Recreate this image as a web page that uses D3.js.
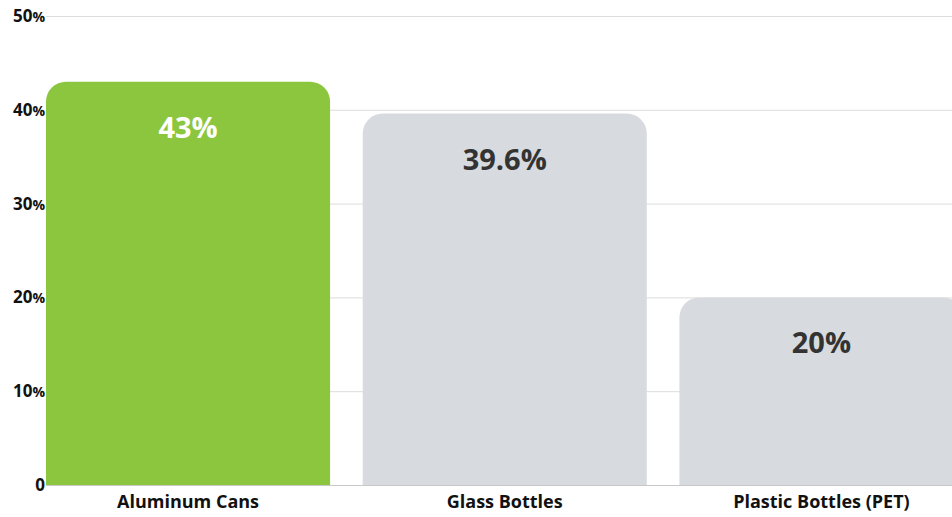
<!DOCTYPE html>
<html>
<head>
<meta charset="utf-8">
<script src="https://cdn.jsdelivr.net/npm/d3@7"></script>
<style>
  body { margin: 0; background: #fff; overflow: hidden; }
  text { font-family: "Open Sans", sans-serif; }
</style>
</head>
<body>
<svg width="952" height="517"></svg>
<script>
var categories = ['Aluminum Cans', 'Glass Bottles', 'Plastic Bottles (PET)']
var values = [43, 39.6, 20]
var labels = ['43%', '39.6%', '20%']
var yTicks = [0, 10, 20, 30, 40, 50]

var svg = d3.select("svg"),
    width = +svg.attr("width"),
    height = +svg.attr("height")

var plotLeft = 46, plotTop = 16, plotBottom = 485
var step = 316.7, pad = 0.103

var x = d3.scaleBand()
    .domain(categories)
    .range([plotLeft, plotLeft + step * (categories.length - pad)])
    .paddingInner(pad)
    .paddingOuter(0)

var y = d3.scaleLinear().domain([0, 50]).range([plotBottom, plotTop])

// gridlines
svg.append("g").selectAll("line")
  .data(yTicks.slice(1))
  .enter().append("line")
    .attr("x1", plotLeft).attr("x2", width)
    .attr("y1", function (d) { return y(d) + 0.5 })
    .attr("y2", function (d) { return y(d) + 0.5 })
    .style("stroke", "#dcdcdc")
    .style("stroke-width", 1)

// y labels
var yl = svg.append("g").selectAll("text")
  .data(yTicks)
  .enter().append("text")
    .attr("x", 45)
    .attr("y", function (d) { return y(d) + 6 })
    .attr("text-anchor", "end")
    .style("font-weight", 700)
    .style("font-size", "17px")
    .style("fill", "#111")
yl.append("tspan").text(function (d) { return d })
yl.append("tspan").style("font-size", "14px").text(function (d) { return d ? '%' : '' })

function topRounded (x0, y0, w, h, r) {
  return 'M' + x0 + ',' + (y0 + h) +
    'V' + (y0 + r) +
    'A' + r + ',' + r + ' 0 0 1 ' + (x0 + r) + ',' + y0 +
    'H' + (x0 + w - r) +
    'A' + r + ',' + r + ' 0 0 1 ' + (x0 + w) + ',' + (y0 + r) +
    'V' + (y0 + h) + 'Z'
}

var bars = svg.append("g").selectAll("g")
  .data(categories)
  .enter().append("g")

bars.append("path")
    .attr("d", function (d, i) {
      return topRounded(x(d), y(values[i]), x.bandwidth(), plotBottom - y(values[i]), 20)
    })
    .style("fill", function (d, i) { return i === 0 ? '#8cc63f' : '#d7dbdf' })

bars.append("text")
    .attr("x", function (d) { return x(d) + x.bandwidth() / 2 })
    .attr("y", function (d, i) { return y(values[i]) + 56 })
    .attr("text-anchor", "middle")
    .style("font-weight", 700)
    .style("font-size", "29px")
    .style("fill", function (d, i) { return i === 0 ? '#fff' : '#333' })
    .text(function (d, i) { return labels[i] })

// baseline
svg.append("line")
    .attr("x1", plotLeft).attr("x2", width)
    .attr("y1", plotBottom + 0.5).attr("y2", plotBottom + 0.5)
    .style("stroke", "#c8c8c8")

// category labels
svg.append("g").selectAll("text")
  .data(categories)
  .enter().append("text")
    .attr("x", function (d) { return x(d) + x.bandwidth() / 2 })
    .attr("y", 508)
    .attr("text-anchor", "middle")
    .style("font-weight", 700)
    .style("font-size", "18px")
    .style("fill", "#111")
    .text(function (d) { return d })
</script>
</body>
</html>
